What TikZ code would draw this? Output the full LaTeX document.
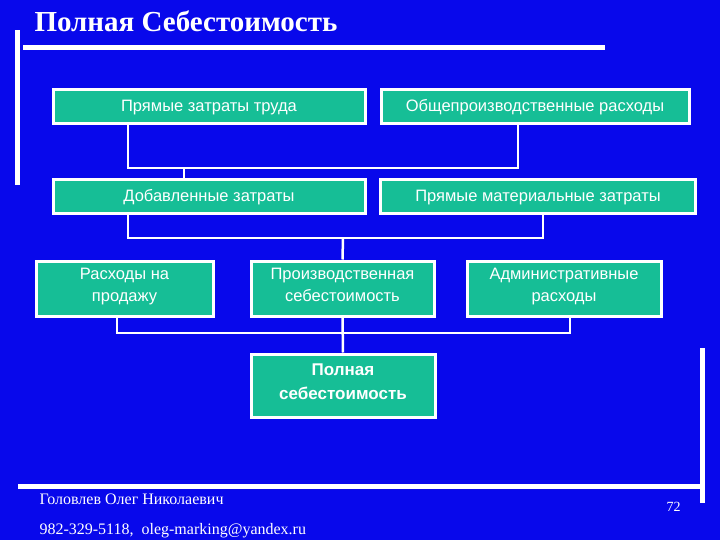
\documentclass[tikz,border=0pt]{standalone}
\usepackage{fontspec}
\setmainfont{Liberation Sans}
\newfontfamily\serifr{Liberation Serif}
\definecolor{bg}{RGB}{8,8,235}
\definecolor{boxg}{RGB}{22,190,150}
\begin{document}
\begin{tikzpicture}[x=1pt,y=-1pt,
  bx/.style={draw=white,line width=3pt,fill=boxg,text=white,font=\fontsize{16.5}{22}\selectfont,align=center,inner sep=0pt,execute at begin node={\strut},execute at end node={\strut}},
  ln/.style={draw=white,line width=2.5pt},
  bar/.style={fill=white}]
\fill[bg] (0,0) rectangle (720,540);
\useasboundingbox (0,0) rectangle (720,540);
\fill[bar] (15,30) rectangle (20,185);
\fill[bar] (23,45) rectangle (605,50);
\fill[bar] (18,484) rectangle (700,489);
\fill[bar] (700,348) rectangle (705,503);
\node[anchor=base west,text=white,font=\serifr\bfseries\fontsize{29}{32}\selectfont] (title) at (31,32) {Полная Себестоимость};
\node[bx,minimum width=312,minimum height=34] (b1) at (209,107) {Прямые затраты труда};
\node[bx,minimum width=308,minimum height=34] (b2) at (535,107) {Общепроизводственные расходы};
\node[bx,minimum width=312,minimum height=34] (b3) at (209,197) {Добавленные затраты};
\node[bx,minimum width=315,minimum height=34] (b4) at (538,197) {Прямые материальные затраты};
\node[bx,minimum width=177,minimum height=55] (b5) at (124.5,288.5) {Расходы на\\продажу};
\node[bx,minimum width=183,minimum height=55] (b6) at (342.5,288.5) {Производственная\\себестоимость};
\node[bx,minimum width=194,minimum height=55] (b7) at (564,288.5) {Административные\\расходы};
\node[bx,minimum width=184,minimum height=63,font=\bfseries\fontsize{17}{24}\selectfont] (b8) at (343,385.5) {Полная\\себестоимость};
\coordinate (j1) at (184,168);
\coordinate (j2) at (343,238);
\draw[ln] (b1.south -| 128,0) |- (j1) -| (b2.south -| 518,0);
\draw[ln] (j1) -- (b3.north -| j1);
\draw[ln] (b3.south -| 128,0) |- (j2) -| (b4.south -| 543,0);
\draw[ln] (j2) -- (b6.north);
\draw[ln] (b5.south -| 117,0) |- (343,333) -| (b7.south -| 570,0);
\draw[ln] (b6.south) -- (b8.north);
\node[anchor=base west,text=white,font=\serifr\fontsize{16}{18}\selectfont] (f1) at (36,504) {Головлев Олег Николаевич};
\node[anchor=base west,text=white,font=\serifr\fontsize{16}{18}\selectfont] (f2) at (36,534) {982-329-5118,\ \ oleg-marking@yandex.ru};
\node[anchor=base west,text=white,font=\serifr\fontsize{14}{16}\selectfont] (pg) at (663,511) {72};
\end{tikzpicture}
\end{document}
